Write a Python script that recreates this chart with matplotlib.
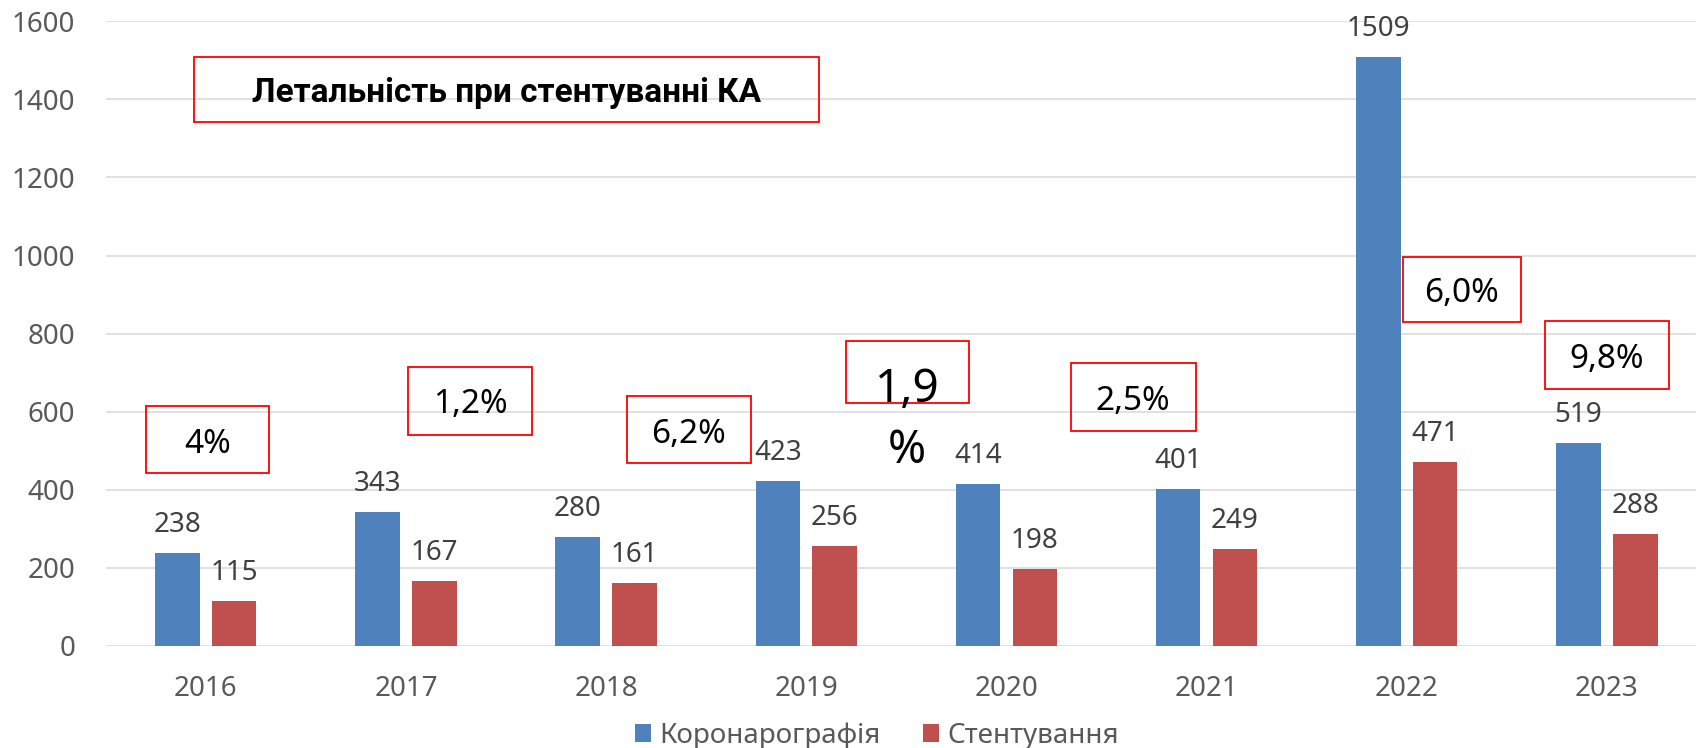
import matplotlib
matplotlib.use("Agg")
import matplotlib.pyplot as plt
from matplotlib.patches import Rectangle
import numpy as np

plt.rcParams['font.family'] = ['Noto Sans', 'DejaVu Sans']

years = ["2016", "2017", "2018", "2019", "2020", "2021", "2022", "2023"]
coronarography = [238, 343, 280, 423, 414, 401, 1509, 519]
stenting = [115, 167, 161, 256, 198, 249, 471, 288]
series_names = ["Коронарографія", "Стентування"]
title_text = "Летальність при стентуванні КА"
mortality_labels = ["4%", "1,2%", "6,2%", "1,9\n%", "2,5%", "6,0%", "9,8%"]

# annotation boxes (data coords): (x0, x1, y_bottom, y_top, text_x, text_baseline_y(last line), fontsize)
mortality_layout = [
    (-0.30, 0.317, 442, 615, 0.01, 495, 24),
    (1.011, 1.628, 540, 715, 1.32, 596, 24),
    (2.102, 2.722, 468, 641, 2.41, 520, 24),
    (3.196, 3.812, 621, 782, 3.503, 469, 33),
    (4.322, 4.945, 551, 725, 4.633, 604, 24),
    (5.980, 6.570, 830, 997, 6.275, 881, 24),
    (6.693, 7.309, 658, 832, 7.000, 711, 24),
]
title_layout = (-0.059, 3.063, 1342, 1509, 1.505, 1393, 24)

BLUE = "#4F81BD"
RED = "#C0504D"
GRID = "#D9D9D9"
TICK = "#595959"
LABEL = "#404040"

W, H = 1696, 748
fig = plt.figure(figsize=(W / 100, H / 100), dpi=100)
ax_left, ax_right = 105.7 / W, 1707 / W
ax_bottom, ax_top = (H - 646) / H, (H - 21.2) / H
ax = fig.add_axes([ax_left, ax_bottom, ax_right - ax_left, ax_top - ax_bottom])

x = np.arange(len(years))
bw = 0.222
off = 0.142
b1 = ax.bar(x - off, coronarography, bw, color=BLUE, label=series_names[0], zorder=3)
b2 = ax.bar(x + off, stenting, bw, color=RED, label=series_names[1], zorder=3)

for bars, vals in ((b1, coronarography), (b2, stenting)):
    for rect, v in zip(bars, vals):
        ax.annotate(str(v), (rect.get_x() + rect.get_width() / 2, v),
                    xytext=(0, 21), textcoords="offset pixels",
                    ha="center", va="baseline", fontsize=20, color=LABEL, zorder=4)

ax.set_xlim(-0.5, 7.5)
ax.set_ylim(0, 1600)
ax.set_yticks(np.arange(0, 1601, 200))
ax.set_xticks(x)
ax.set_xticklabels(years)
ax.tick_params(axis="both", length=0, labelsize=20, labelcolor=TICK)
ax.tick_params(axis="y", pad=22)
ax.tick_params(axis="x", pad=21)
ax.yaxis.grid(True, color=GRID, linewidth=1.1, zorder=0)
ax.set_axisbelow(True)
for s in ax.spines.values():
    s.set_visible(False)

def boxed(layout, text, **kw):
    x0, x1, y0, y1, tx, ty, fs = layout
    ax.add_patch(Rectangle((x0, y0), x1 - x0, y1 - y0, fill=False,
                           edgecolor="#FF0000", linewidth=1.3, zorder=5, clip_on=False))
    ax.text(tx, ty, text, ha="center", va="baseline", multialignment="center",
            fontsize=fs, color="black", zorder=6, **kw)

boxed(title_layout, title_text, fontweight="bold",
      family=['Roboto', 'Open Sans', 'DejaVu Sans'])
for lay, lab in zip(mortality_layout, mortality_labels):
    boxed(lay, lab, linespacing=1.43)

fig.legend(handles=[b1, b2], labels=series_names, loc="center",
           bbox_to_anchor=(877 / W, 1 - 736 / H), ncol=2, frameon=False,
           fontsize=20, labelcolor=TICK, handlelength=0.6, handleheight=0.6,
           handletextpad=0.3, columnspacing=1.5, borderpad=0)

fig.savefig("out.png", dpi=100)
